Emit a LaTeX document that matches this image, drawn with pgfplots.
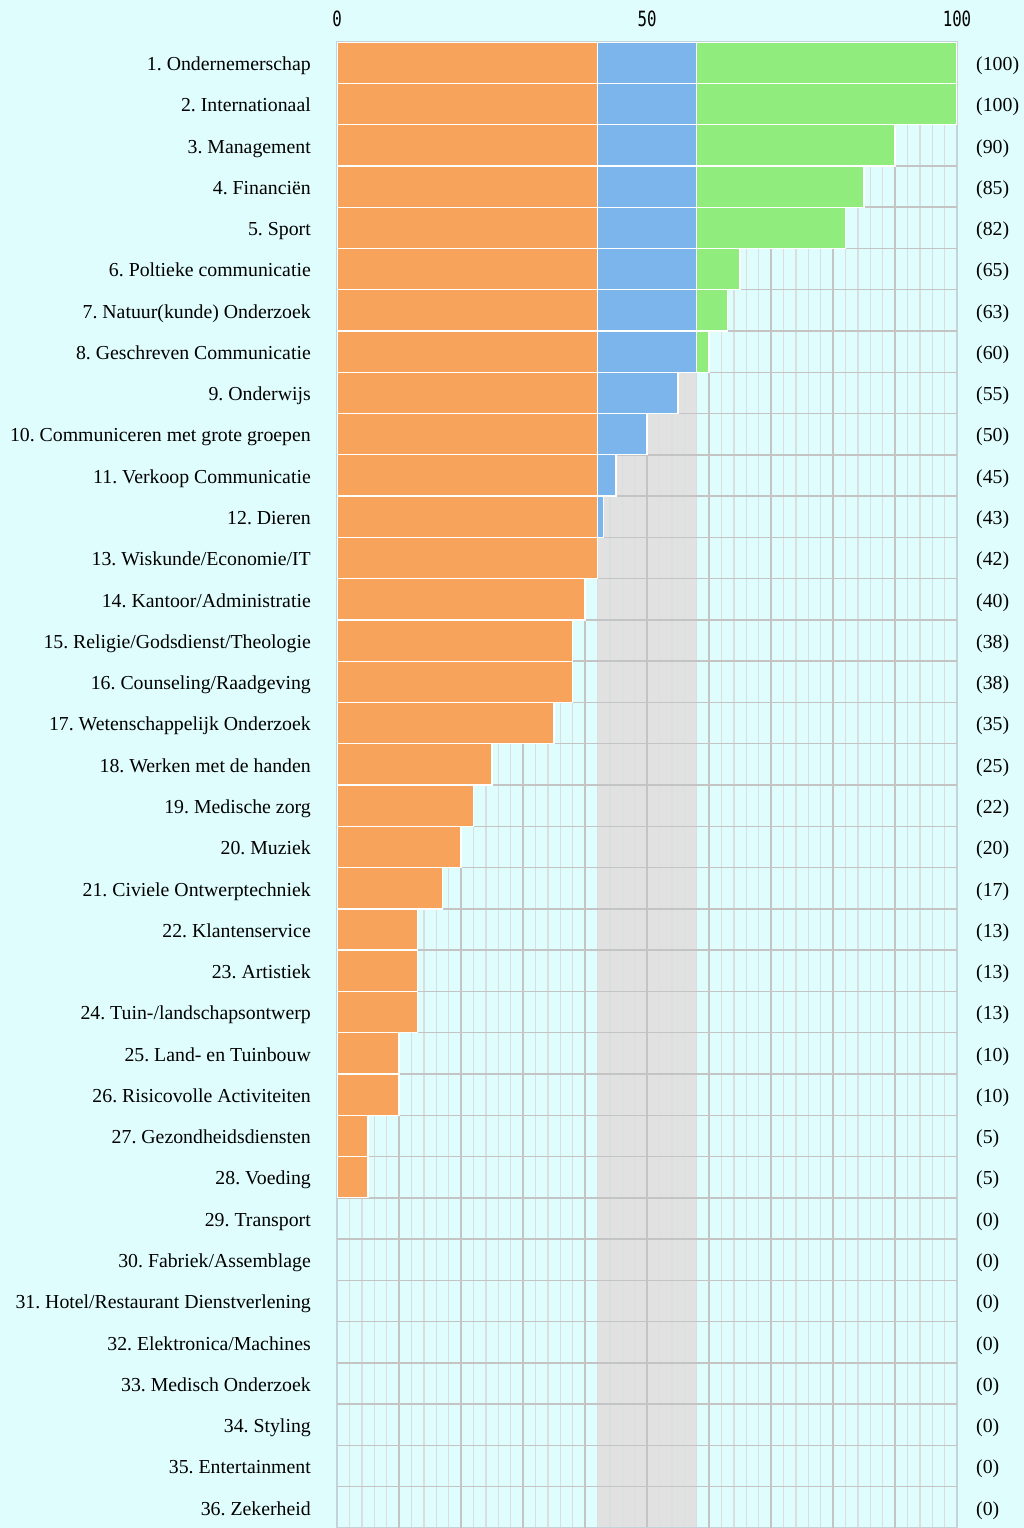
\documentclass[border=0pt]{standalone}
\usepackage{fontspec}
\setmainfont{Liberation Serif}
\newfontfamily\tickfont[FakeStretch=0.75]{DejaVu Sans Mono}
\usepackage{pgfplots}
\pgfplotsset{compat=1.18}
\usepackage{pgfplotstable}
\definecolor{bg}{HTML}{E0FDFD}
\definecolor{band}{HTML}{E1E1E1}
\definecolor{hcorange}{HTML}{F7A35C}
\definecolor{hcblue}{HTML}{7CB5EC}
\definecolor{hcgreen}{HTML}{90ED7D}
\definecolor{gridmajor}{HTML}{C4C4C4}
\definecolor{gridminor}{HTML}{D9DEDE}
\definecolor{axisline}{HTML}{C4D2DA}

\pgfplotstableread{
idx o b g
1 42 16 42
2 42 16 42
3 42 16 32
4 42 16 27
5 42 16 24
6 42 16 7
7 42 16 5
8 42 16 2
9 42 13 0
10 42 8 0
11 42 3 0
12 42 1 0
13 42 0 0
14 40 0 0
15 38 0 0
16 38 0 0
17 35 0 0
18 25 0 0
19 22 0 0
20 20 0 0
21 17 0 0
22 13 0 0
23 13 0 0
24 13 0 0
25 10 0 0
26 10 0 0
27 5 0 0
28 5 0 0
29 0 0 0
30 0 0 0
31 0 0 0
32 0 0 0
33 0 0 0
34 0 0 0
35 0 0 0
36 0 0 0
}\data

\begin{document}
\frenchspacing
\begin{tikzpicture}
\fill[bg] (0,0) rectangle (1024pt,1528pt);
\useasboundingbox (0,0) rectangle (1024pt,1528pt);
% background band + right value labels
\begin{axis}[
  at={(337pt,0pt)}, anchor=south west, scale only axis,
  width=620pt, height=1486pt,
  xmin=0, xmax=100, ymin=0.5, ymax=36.5, y dir=reverse,
  axis line style={draw=none},
  xtick=\empty,
  ytick={1,...,36},
  yticklabel pos=right,
  major tick length=0pt,
  yticklabel style={anchor=mid west, inner sep=0pt, xshift=19pt, yshift=-5.5pt, font=\fontsize{19.8}{24}\selectfont\frenchspacing},
  yticklabels={(100),(100),(90),(85),(82),(65),(63),(60),(55),(50),(45),(43),(42),(40),(38),(38),(35),(25),(22),(20),(17),(13),(13),(13),(10),(10),(5),(5),(0),(0),(0),(0),(0),(0),(0),(0)},
]
\addplot[fill=band, draw=none] coordinates {(42,0.5) (58,0.5) (58,36.5) (42,36.5)} -- cycle;
\end{axis}
% grid + bars + category labels
\begin{axis}[
  at={(337pt,0pt)}, anchor=south west, scale only axis,
  width=620pt, height=1486pt,
  xbar stacked, bar width=1,
  xmin=0, xmax=100, ymin=0.5, ymax=36.5, y dir=reverse,
  axis line style={draw=axisline, line width=1.2pt},
  major tick length=0pt, minor tick length=0pt,
  xtick={0,50,100}, xticklabels={0,50,100},
  xticklabel pos=upper,
  xticklabel style={anchor=base, inner sep=0pt, yshift=16pt, font=\tickfont\fontsize{21}{21}\selectfont},
  minor x tick num=24,
  xmajorgrids, xminorgrids,
  major grid style={draw=gridmajor, line width=1.4pt},
  minor grid style={draw=gridminor, line width=1.4pt},
  extra x ticks={10,20,30,40,60,70,80,90},
  extra x tick labels={},
  extra x tick style={xmajorgrids=true},
  ytick={1,...,36},
  extra y ticks={1.5,2.5,...,35.5},
  extra y tick labels={},
  extra y tick style={ymajorgrids=true},
  yticklabel style={anchor=mid east, inner sep=0pt, xshift=-26pt, yshift=-5.5pt, font=\fontsize{19.8}{24}\selectfont\frenchspacing},
  yticklabels={{1. Ondernemerschap},{2. Internationaal},{3. Management},{4. Financiën},{5. Sport},{6. Poltieke communicatie},{7. Natuur(kunde) Onderzoek},{8. Geschreven Communicatie},{9. Onderwijs},{10. Communiceren met grote groepen},{11. Verkoop Communicatie},{12. Dieren},{13. Wiskunde/Economie/IT},{14. Kantoor/Administratie},{15. Religie/Godsdienst/Theologie},{16. Counseling/Raadgeving},{17. Wetenschappelijk Onderzoek},{18. Werken met de handen},{19. Medische zorg},{20. Muziek},{21. Civiele Ontwerptechniek},{22. Klantenservice},{23. Artistiek},{24. Tuin-/landschapsontwerp},{25. Land- en Tuinbouw},{26. Risicovolle Activiteiten},{27. Gezondheidsdiensten},{28. Voeding},{29. Transport},{30. Fabriek/Assemblage},{31. Hotel/Restaurant Dienstverlening},{32. Elektronica/Machines},{33. Medisch Onderzoek},{34. Styling},{35. Entertainment},{36. Zekerheid}},
]
\addplot[fill=hcorange, draw=white, line width=1.3pt] table[x=o, y=idx] {\data};
\addplot[fill=hcblue, draw=white, line width=1.3pt] table[x=b, y=idx] {\data};
\addplot[fill=hcgreen, draw=white, line width=1.3pt] table[x=g, y=idx] {\data};
\end{axis}
\end{tikzpicture}
\end{document}
